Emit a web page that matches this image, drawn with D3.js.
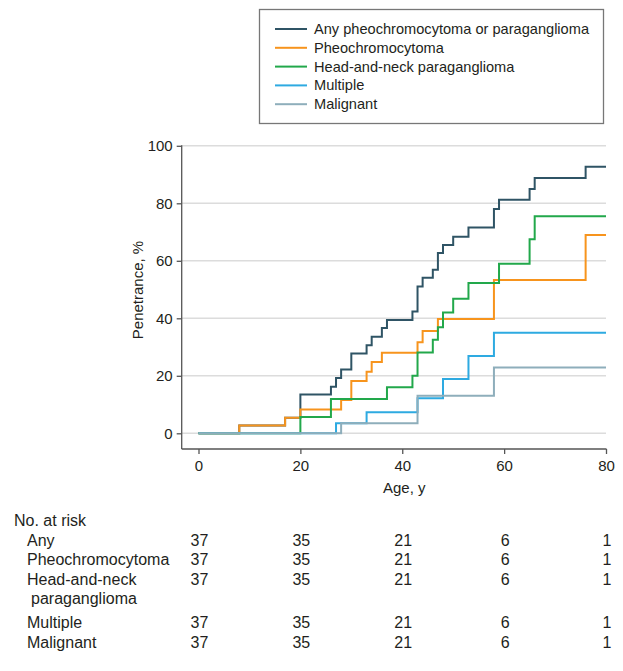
<!DOCTYPE html>
<html><head><meta charset="utf-8">
<script src="https://cdn.jsdelivr.net/npm/d3@7/dist/d3.min.js"></script>
<style>
body{margin:0;background:#fff;}
svg text{font-family:"Liberation Sans",Arial,sans-serif;fill:#231f20;}
</style></head>
<body><svg id="c" width="623" height="671"></svg>
<script>
// ---- data ----
const seriesNames = ["Any pheochromocytoma or paraganglioma","Pheochromocytoma","Head-and-neck paraganglioma","Multiple","Malignant"];
const seriesColors = ["#2f5465","#f7941d","#22a84b","#2eaae1","#8eaebb"];
const anyAge   = [0,8,17,20,26,27,28,30,33,34,36,37,42,43,44,46,47,48,50,53,58,59,65,66,76,80];
const anyPct   = [0,2.7,5.4,13.5,16.2,19.2,22.2,27.8,30.6,33.6,36.6,39.4,42.4,51.1,54.1,56.9,62.7,65.5,68.4,71.6,78,81.2,85,88.8,92.7,92.7];
const pheoAge  = [0,8,17,20,28,30,33,34,36,43,44,47,58,76,80];
const pheoPct  = [0,2.7,5.4,8.3,11.6,18.2,21.4,24.8,28,31.7,35.6,39.8,53.3,69,69];
const hnAge    = [0,20,26,37,42,43,46,47,48,50,53,59,65,66,80];
const hnPct    = [0,5.7,11.9,16,20,28.1,32.5,36.9,42,46.8,52.3,59,67.5,75.5,75.5];
const multAge  = [0,27,33,43,48,53,58,80];
const multPct  = [0,3.5,7.3,12.2,18.9,26.9,35,35];
const malAge   = [0,28,43,58,80];
const malPct   = [0,3.5,13.1,22.9,22.9];
const xTicks = [0,20,40,60,80];
const yTicks = [0,20,40,60,80,100];
const riskLabels = ["Any","Pheochromocytoma","Head-and-neck","Multiple","Malignant"];
const riskCounts = [
  [37,35,21,6,1],
  [37,35,21,6,1],
  [37,35,21,6,1],
  [37,35,21,6,1],
  [37,35,21,6,1]
];

const series = [
  {age:anyAge,pct:anyPct},{age:pheoAge,pct:pheoPct},{age:hnAge,pct:hnPct},
  {age:multAge,pct:multPct},{age:malAge,pct:malPct}
].map((s,i)=>({name:seriesNames[i],color:seriesColors[i],pts:s.age.map((a,j)=>[a,s.pct[j]])}));

const svg = d3.select("#c");
const x = d3.scaleLinear().domain([0,80]).range([198.5,606]);
const y = d3.scaleLinear().domain([0,100]).range([433.3,145.8]);
const axisX0 = 181.7, axisY0 = 449;

// gridlines
svg.append("g").selectAll("line").data(yTicks).join("line")
  .attr("x1",axisX0).attr("x2",606).attr("y1",d=>y(d)).attr("y2",d=>y(d))
  .attr("stroke","#dcdcdc").attr("stroke-width",1.5);

// y axis
const yAx = svg.append("g").attr("transform",`translate(${axisX0},0)`)
  .call(d3.axisLeft(y).tickValues(yTicks).tickSize(5).tickPadding(4));
yAx.select(".domain").attr("d",`M0,${y(100)-0.5}V${axisY0}`);
// x axis
const xAx = svg.append("g").attr("transform",`translate(0,${axisY0})`)
  .call(d3.axisBottom(x).tickValues(xTicks).tickSize(5).tickPadding(6));
xAx.select(".domain").attr("d",`M${axisX0},0H${x(80)+0.5}`);
[yAx,xAx].forEach(a=>{
  a.selectAll(".domain,.tick line").attr("stroke","#555").attr("stroke-width",1.3);
  a.selectAll("text").attr("font-size",15).attr("fill","#231f20")
   .attr("font-family","'Liberation Sans',Arial,sans-serif");
});

svg.append("text").attr("x",(x(0)+x(80))/2 + 2).attr("y",493).attr("text-anchor","middle")
  .attr("font-size",15).text("Age, y");
svg.append("text").attr("transform","translate(143,290) rotate(-90)").attr("text-anchor","middle")
  .attr("font-size",15).text("Penetrance, %");

// step lines
const line = d3.line().x(d=>x(d[0])).y(d=>y(d[1])).curve(d3.curveStepAfter);
svg.append("g").selectAll("path").data(series).join("path")
  .attr("d",d=>line(d.pts)).attr("fill","none").attr("stroke",d=>d.color)
  .attr("stroke-width",2).attr("stroke-linejoin","miter");

// legend
svg.append("rect").attr("x",259.5).attr("y",9.5).attr("width",344).attr("height",114)
  .attr("fill","none").attr("stroke","#777").attr("stroke-width",1.3);
const lg = svg.append("g").selectAll("g").data(series).join("g")
  .attr("transform",(d,i)=>`translate(0,${29+i*18.8})`);
lg.append("line").attr("x1",275).attr("x2",307).attr("y1",0).attr("y2",0)
  .attr("stroke",d=>d.color).attr("stroke-width",2);
lg.append("text").attr("x",314).attr("y",5).attr("font-size",14.6).text(d=>d.name);

// risk table
svg.append("text").attr("x",14).attr("y",525.5).attr("font-size",16).text("No. at risk");
const rowY = [545.5,564.5,584.5,628,647.5];
riskLabels.forEach((lab,i)=>{
  svg.append("text").attr("x",27).attr("y",rowY[i]).attr("font-size",16).text(lab);
  svg.append("g").selectAll("text").data(riskCounts[i]).join("text")
    .attr("x",(d,j)=>x(xTicks[j])+1).attr("y",rowY[i]).attr("text-anchor","middle")
    .attr("font-size",16).text(d=>d);
});
svg.append("text").attr("x",31).attr("y",604).attr("font-size",16).text("paraganglioma");
</script></body></html>
